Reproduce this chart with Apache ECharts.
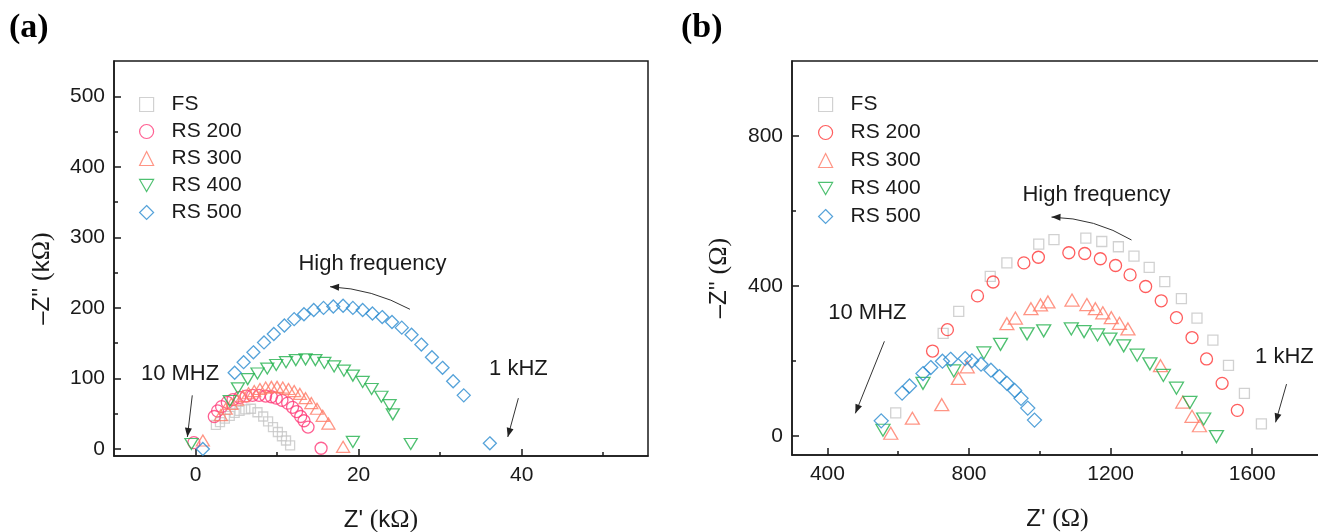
<!DOCTYPE html>
<html>
<head>
<meta charset="utf-8">
<script src="https://cdn.jsdelivr.net/npm/echarts@6/dist/echarts.min.js"></script>
<style>
html, body { margin: 0; padding: 0; background: #fff; }
#chart { width: 1318px; height: 532px; }
</style>
</head>
<body>
<div id="chart"></div>
<script>
// series names shared by both panels
const names = ['FS', 'RS 200', 'RS 300', 'RS 400', 'RS 500'];

// panel (a): Z' (kOhm), -Z'' (kOhm)
const fsA = [[2.5,34],[3.0,38],[3.6,43],[4.2,47],[4.8,51],[5.4,54],[6.1,56],[6.8,57],[7.6,52],[8.3,46],[8.9,39],[9.5,31],[10.1,24],[10.6,18],[11.1,12],[11.6,5]];
const rs200A = [[-0.2,9],[2.3,46],[2.7,54],[3.2,60],[3.9,66],[4.6,70],[5.4,73],[6.2,75],[7.0,76],[7.8,76],[8.6,75],[9.3,74],[9.9,72],[10.6,69],[11.3,65],[11.9,59],[12.4,53],[12.9,46],[13.3,40],[13.8,31],[15.4,1]];
const rs300A = [[0.9,12],[3.1,48],[3.7,57],[4.4,64],[5.1,70],[5.8,75],[6.5,79],[7.2,82],[7.9,85],[8.6,87],[9.3,88],[10.0,88],[10.7,87],[11.4,85],[12.1,82],[12.8,78],[13.5,72],[14.2,65],[14.9,57],[15.6,47],[16.3,36],[18.1,3]];
const rs400A = [[-0.5,7],[4.2,68],[5.2,86],[6.4,99],[7.6,107],[8.8,114],[9.9,119],[11.1,123],[12.3,126],[13.5,127],[14.7,126],[15.8,122],[17.0,117],[18.2,111],[19.3,104],[20.5,95],[21.6,85],[22.8,74],[23.8,62],[24.2,49],[19.3,10],[26.4,7]];
const rs500A = [[0.9,0],[4.8,108],[5.9,123],[7.1,137],[8.4,151],[9.6,163],[10.9,175],[12.1,184],[13.3,191],[14.5,197],[15.7,200],[16.9,202],[18.1,203],[19.3,200],[20.5,197],[21.7,192],[22.9,187],[24.1,180],[25.3,172],[26.5,162],[27.7,148],[29.0,130],[30.3,115],[31.6,96],[32.9,76],[36.1,8]];

// panel (b): Z' (Ohm), -Z'' (Ohm)
const fsB = [[593,62],[727,274],[771,333],[860,426],[907,462],[997,512],[1040,524],[1130,528],[1175,519],[1222,505],[1266,480],[1309,450],[1353,412],[1400,367],[1444,315],[1489,256],[1533,189],[1578,114],[1626,33]];
const rs200B = [[697,227],[739,284],[824,374],[868,411],[955,462],[996,477],[1082,489],[1127,487],[1171,473],[1214,455],[1255,430],[1299,399],[1343,361],[1386,316],[1430,263],[1471,206],[1515,141],[1558,69]];
const rs300B = [[579,8],[640,48],[723,84],[770,154],[795,185],[907,300],[931,315],[975,340],[1002,350],[1023,358],[1091,363],[1133,351],[1157,340],[1178,329],[1202,316],[1225,301],[1249,286],[1341,188],[1404,91],[1430,53],[1451,28]];
const rs400B = [[557,16],[670,141],[757,174],[842,222],[889,245],[964,273],[1011,281],[1089,286],[1125,279],[1163,270],[1198,259],[1237,241],[1275,216],[1311,193],[1349,162],[1386,128],[1424,90],[1463,46],[1499,-1]];
const rs500B = [[552,41],[611,115],[632,134],[670,167],[692,183],[725,200],[748,205],[789,207],[808,201],[834,192],[862,176],[886,159],[907,141],[929,122],[947,101],[966,75],[985,43]];

// tick values
const xMajorA = [0, 20, 40], xMinorA = [10, 30, 50];
const yMajorA = [0, 100, 200, 300, 400, 500], yMinorA = [50, 150, 250, 350, 450];
const xMajorB = [400, 800, 1200, 1600], xMinorB = [600, 1000, 1400];
const yMajorB = [0, 400, 800], yMinorB = [200, 600];

const sans = 'Liberation Sans, Arial, sans-serif';
const serif = 'Liberation Serif, Times New Roman, serif';
const ink = '#1a1a1a';

const colorsA = ['#c6c6c6', '#ff3a78', '#ff7a66', '#22b04c', '#2a8bd0'];
const colorsB = ['#c6c6c6', '#ff3434', '#ff7a66', '#22b04c', '#2a8bd0'];
const symbols = ['rect', 'circle', 'triangle', 'path://M0,0L10,0L5,8.66Z', 'diamond'];
const sizesA = [9, 12, [13, 11], [13, 11], 13];
const sizesB = [10, 12, [14, 12], [14, 12], 14];

function mainAxis(grid, min, max, major, name, gap, rot) {
    return {
        gridIndex: grid, type: 'value', min: min, max: max,
        axisLine: { show: true, onZero: false, lineStyle: { color: ink, width: 1.5 } },
        axisTick: { show: true, inside: true, length: 7, customValues: major, lineStyle: { color: ink, width: 1.5 } },
        axisLabel: { customValues: major, fontSize: 21, fontFamily: sans, color: ink, margin: 9,
            formatter: v => String(v) },
        splitLine: { show: false },
        name: name, nameLocation: 'middle', nameGap: gap, nameRotate: rot,
        nameTextStyle: { fontSize: 24, fontFamily: sans, color: ink,
            padding: rot ? [0, 40, 0, 0] : 0,
            rich: { s: { fontSize: 26, fontFamily: serif, color: ink } } }
    };
}
function minorAxis(grid, min, max, minor) {
    return {
        gridIndex: grid, type: 'value', min: min, max: max,
        axisLine: { show: false, onZero: false },
        axisTick: { show: true, inside: true, length: 4, customValues: minor, lineStyle: { color: ink, width: 1.5 } },
        axisLabel: { show: false },
        splitLine: { show: false }
    };
}

const xAxes = [
    Object.assign(mainAxis(0, -10, 55.5, xMajorA, "Z' {s|(}k{s|Ω)}", 51, 0), { position: 'bottom' }),
    Object.assign(minorAxis(0, -10, 55.5, xMinorA), { position: 'bottom' }),
    Object.assign(mainAxis(1, 300, 1800, xMajorB, "Z' {s|(Ω)}", 51, 0), { position: 'bottom' }),
    Object.assign(minorAxis(1, 300, 1800, xMinorB), { position: 'bottom' })
];
const yAxes = [
    Object.assign(mainAxis(0, -10, 550, yMajorA, "–Z'' {s|(}k{s|Ω)}", 59, 90), { position: 'left' }),
    Object.assign(minorAxis(0, -10, 550, yMinorA), { position: 'left' }),
    Object.assign(mainAxis(1, -50, 1000, yMajorB, "–Z'' {s|(Ω)}", 60, 90), { position: 'left' }),
    Object.assign(minorAxis(1, -50, 1000, yMinorB), { position: 'left' })
];

const dataA = [fsA, rs200A, rs300A, rs400A, rs500A];
const dataB = [fsB, rs200B, rs300B, rs400B, rs500B];

const series = [];
names.forEach((n, i) => {
    series.push({
        name: n, type: 'scatter', xAxisIndex: 0, yAxisIndex: 0,
        symbol: symbols[i], symbolSize: sizesA[i], data: dataA[i],
        itemStyle: { color: 'rgba(0,0,0,0)', borderColor: colorsA[i], borderWidth: 1.3 }
    });
});
names.forEach((n, i) => {
    series.push({
        name: n, type: 'scatter', xAxisIndex: 2, yAxisIndex: 2,
        symbol: symbols[i], symbolSize: sizesB[i], data: dataB[i],
        itemStyle: { color: 'rgba(0,0,0,0)', borderColor: colorsB[i], borderWidth: 1.3 }
    });
});

function legendFor(left, top, gap, colors) {
    return {
        orient: 'vertical', left: left, top: top, itemGap: gap,
        itemWidth: 14, itemHeight: 14, selectedMode: false,
        textStyle: { fontSize: 21, fontFamily: sans, color: ink, padding: [0, 0, 0, 13] },
        data: names.map((n, i) => ({
            name: n, icon: symbols[i],
            itemStyle: { color: 'rgba(0,0,0,0)', borderColor: colors[i], borderWidth: 1.2 }
        }))
    };
}

const chart = echarts.init(document.getElementById('chart'));
chart.setOption({
    animation: false,
    backgroundColor: '#fff',
    grid: [
        { left: 114, top: 61, width: 534, height: 395, show: true, borderColor: ink, borderWidth: 1.5,
          containLabel: false, outerBoundsMode: 'none' },
        { left: 792, top: 61, width: 531, height: 394, show: true, borderColor: ink, borderWidth: 1.5,
          containLabel: false, outerBoundsMode: 'none' }
    ],
    legend: [legendFor(134, 89, 6, colorsA), legendFor(813, 89, 7, colorsB)],
    xAxis: xAxes,
    yAxis: yAxes,
    series: series
});

// annotations, in data coordinates of each panel
const notesA = [['High frequency', [21.7, 263]], ['10 MHZ', [-1.9, 106]], ['1 kHZ', [39.6, 113]]];
const arrowsA = [[[26.3, 198], [21.7, 227], [16.5, 230]], [[-0.4, 76], null, [-1.0, 17]], [[39.6, 72], null, [38.3, 17]]];
const notesB = [['High frequency', [1160, 643]], ['10 MHZ', [513, 328]], ['1 kHZ', [1691, 211]]];
const arrowsB = [[[1259, 523], [1157, 581], [1033, 584]], [[561, 253], null, [479, 61]], [[1697, 139], null, [1666, 37]]];

const graphic = [
    { type: 'text', left: 9, top: 11, style: { text: '(a)', font: 'bold 34px ' + serif, fill: '#000' } },
    { type: 'text', left: 681, top: 11, style: { text: '(b)', font: 'bold 34px ' + serif, fill: '#000' } }
];
function addNotes(notes, arrows, xi, yi) {
    const px = p => chart.convertToPixel({ xAxisIndex: xi, yAxisIndex: yi }, p);
    notes.forEach(([t, p]) => {
        const q = px(p);
        graphic.push({ type: 'text', x: q[0], y: q[1],
            style: { text: t, font: '22px ' + sans, fill: ink, align: 'center', verticalAlign: 'middle' } });
    });
    arrows.forEach(([a, c, b]) => {
        const p1 = px(a), p2 = px(b);
        const pc = c ? px(c) : null;
        if (pc) {
            graphic.push({ type: 'bezierCurve',
                shape: { x1: p1[0], y1: p1[1], cpx1: pc[0], cpy1: pc[1], x2: p2[0], y2: p2[1] },
                style: { stroke: '#333', lineWidth: 1, fill: null } });
        } else {
            graphic.push({ type: 'line', shape: { x1: p1[0], y1: p1[1], x2: p2[0], y2: p2[1] },
                style: { stroke: '#333', lineWidth: 1 } });
        }
        const from = pc || p1;
        const dx = p2[0] - from[0], dy = p2[1] - from[1];
        const len = Math.hypot(dx, dy), ux = dx / len, uy = dy / len;
        const hl = 9, hw = 3.5;
        graphic.push({ type: 'polygon',
            shape: { points: [p2, [p2[0] - ux * hl - uy * hw, p2[1] - uy * hl + ux * hw], [p2[0] - ux * hl + uy * hw, p2[1] - uy * hl - ux * hw]] },
            style: { fill: '#222' } });
    });
}
addNotes(notesA, arrowsA, 0, 0);
addNotes(notesB, arrowsB, 2, 2);
chart.setOption({ graphic: graphic });
</script>
</body>
</html>
